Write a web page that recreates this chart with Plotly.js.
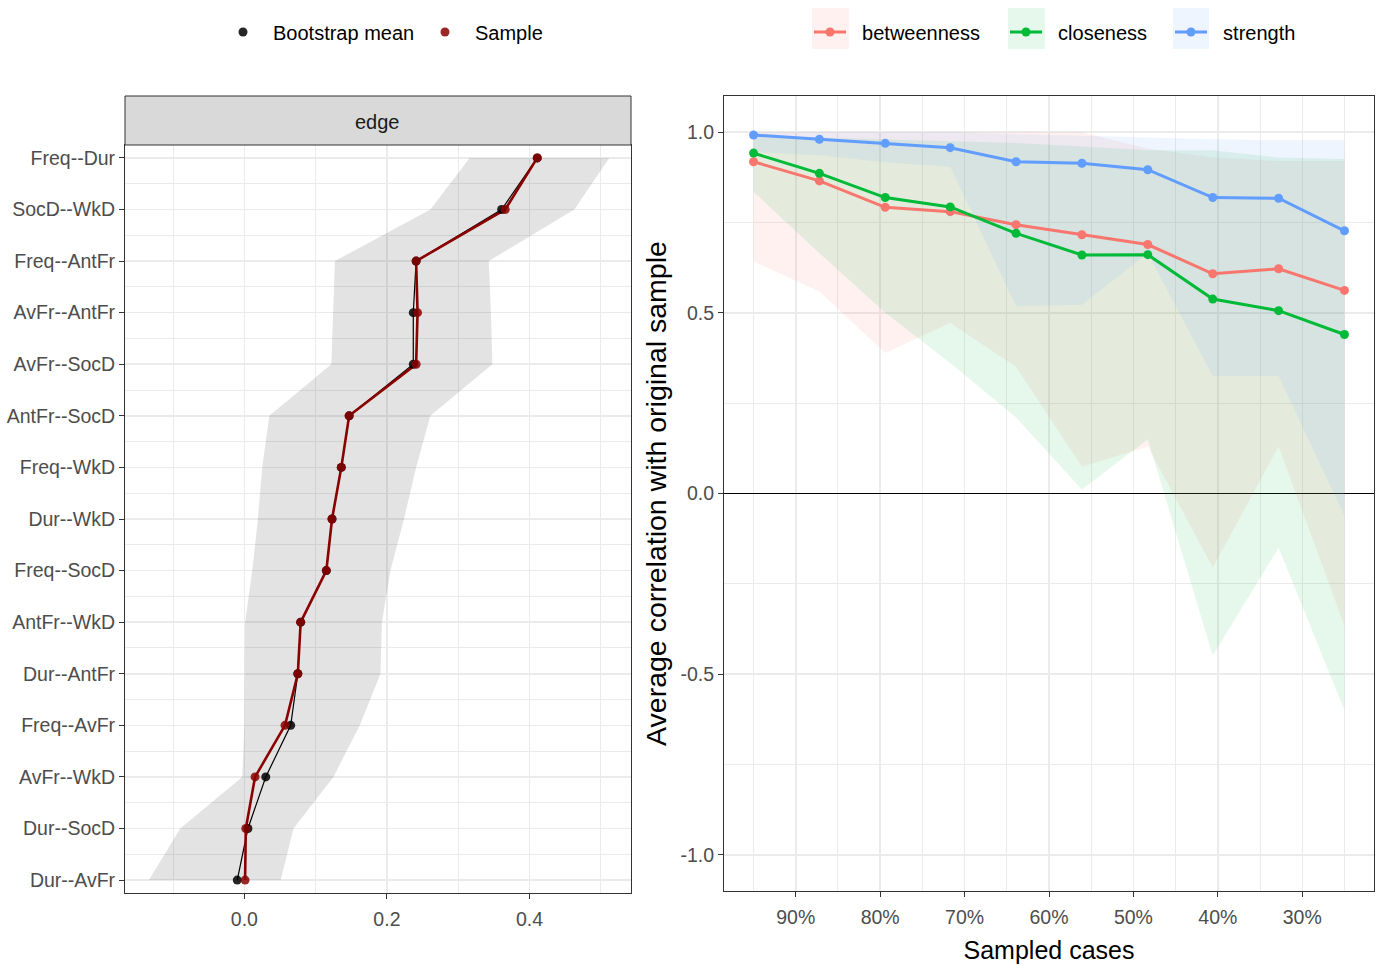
<!DOCTYPE html>
<html><head><meta charset="utf-8">
<script src="https://cdn.plot.ly/plotly-3.0.1.min.js"></script>
<style>html,body{margin:0;padding:0;background:#fff}#chart{width:1383px;height:968px}</style>
</head><body><div id="chart"></div>
<script>
// ---------- Left panel: edge weights ----------
const edges = ["Freq--Dur","SocD--WkD","Freq--AntFr","AvFr--AntFr","AvFr--SocD","AntFr--SocD","Freq--WkD","Dur--WkD","Freq--SocD","AntFr--WkD","Dur--AntFr","Freq--AvFr","AvFr--WkD","Dur--SocD","Dur--AvFr"];
const bootMean  = [0.411,0.361,0.241,0.237,0.237,0.147,0.136,0.123,0.115,0.079,0.075,0.065,0.030,0.005,-0.010];
const sampleVal = [0.411,0.366,0.241,0.243,0.241,0.147,0.136,0.123,0.115,0.079,0.075,0.057,0.015,0.002,0.001];
const ciLower   = [0.316,0.261,0.127,0.124,0.122,0.035,0.025,0.019,0.011,0.001,0.001,0.000,-0.003,-0.090,-0.134];
const ciUpper   = [0.512,0.463,0.343,0.346,0.348,0.261,0.241,0.224,0.205,0.193,0.191,0.162,0.125,0.069,0.051];
const edgeTickVals = [0.0, 0.2, 0.4];

// ---------- Right panel: case-dropping stability ----------
const sampledPct    = [95.0,87.2,79.4,71.7,63.9,56.1,48.3,40.6,32.8,25.0];
const betweenness   = [0.918,0.865,0.792,0.780,0.744,0.716,0.689,0.608,0.622,0.562];
const closeness     = [0.942,0.886,0.819,0.793,0.720,0.660,0.661,0.538,0.506,0.440];
const strength      = [0.992,0.980,0.969,0.957,0.918,0.914,0.896,0.819,0.817,0.727];
const betweennessLo = [0.642,0.559,0.389,0.472,0.350,0.074,0.130,-0.205,0.130,-0.366];
const betweennessHi = [1.000,1.000,1.000,1.000,1.000,1.000,0.955,0.930,0.920,0.920];
const closenessLo   = [0.835,0.665,0.500,0.361,0.210,0.011,0.150,-0.448,-0.150,-0.600];
const closenessHi   = [0.990,0.985,0.980,0.975,0.970,0.960,0.950,0.950,0.930,0.926];
const strengthLo    = [0.945,0.936,0.917,0.904,0.518,0.522,0.665,0.325,0.325,-0.062];
const strengthHi    = [1.000,1.000,1.000,1.000,0.995,0.990,0.985,0.980,0.978,0.978];
const pctTickVals = [90,80,70,60,50,40,30];
const corTickVals = [-1.0,-0.5,0.0,0.5,1.0];

const W = 1383, H = 968;
const px = v => v / W, py = v => 1 - v / H;
const FONT = "'Liberation Sans',Arial,sans-serif";
const GRID = '#ebebeb';

const idx = edges.map((_, i) => i);
const rev = a => a.slice().reverse();

const traces = [];
// left ribbon, lines, points
traces.push({x: ciLower.concat(rev(ciUpper)), y: idx.concat(rev(idx)), xaxis:'x', yaxis:'y',
  type:'scatter', mode:'lines', fill:'toself', fillcolor:'rgba(0,0,0,0.11)', line:{width:0},
  showlegend:false, hoverinfo:'skip'});
traces.push({x: bootMean, y: idx, xaxis:'x', yaxis:'y', type:'scatter', mode:'lines',
  line:{color:'#000', width:1.2}, showlegend:false});
traces.push({x: sampleVal, y: idx, xaxis:'x', yaxis:'y', type:'scatter', mode:'lines',
  line:{color:'#8b0000', width:2.6}, showlegend:false});
traces.push({x: bootMean, y: idx, xaxis:'x', yaxis:'y', type:'scatter', mode:'markers',
  name:'Bootstrap mean', legend:'legend', marker:{color:'rgba(0,0,0,0.85)', size:9}});
traces.push({x: sampleVal, y: idx, xaxis:'x', yaxis:'y', type:'scatter', mode:'markers',
  name:'Sample', legend:'legend2', marker:{color:'rgba(139,0,0,0.85)', size:9}});

// right ribbons and lines
const measures = [
  {name:'betweenness', v:betweenness, lo:betweennessLo, hi:betweennessHi, c:'248,118,109', leg:'legend3'},
  {name:'closeness',   v:closeness,   lo:closenessLo,   hi:closenessHi,   c:'0,186,56',    leg:'legend4'},
  {name:'strength',    v:strength,    lo:strengthLo,    hi:strengthHi,    c:'97,156,255',  leg:'legend5'}
];
measures.forEach(m => traces.push({x: sampledPct.concat(rev(sampledPct)), y: m.hi.concat(rev(m.lo)),
  xaxis:'x2', yaxis:'y2', type:'scatter', mode:'lines', fill:'toself', fillcolor:'rgba('+m.c+',0.1)',
  line:{width:0}, showlegend:false, hoverinfo:'skip'}));
measures.forEach(m => traces.push({x: sampledPct, y: m.v, xaxis:'x2', yaxis:'y2', type:'scatter',
  mode:'lines+markers', name:'\u00a0\u00a0' + m.name, legend:m.leg,
  line:{color:'rgb('+m.c+')', width:3}, marker:{color:'rgb('+m.c+')', size:9}}));

const tickFont = {family: FONT, size: 19.5, color:'#4d4d4d'};
const axLine = {showline:true, mirror:true, linecolor:'#333', linewidth:1, ticks:'outside', ticklen:5, tickcolor:'#333', tickwidth:1};
const legFont = {family: FONT, size: 20, color:'#000'};
function mkLeg(xpx, iw){ return {x: px(xpx), y: py(32), xanchor:'left', yanchor:'middle', orientation:'h',
  itemwidth: iw, bgcolor:'rgba(0,0,0,0)', borderwidth:0, font: legFont}; }

const layout = {
  width: W, height: H, margin:{l:0, r:0, t:0, b:0}, paper_bgcolor:'#fff', plot_bgcolor:'#fff',
  xaxis: Object.assign({domain:[px(125), px(631)], range:[-0.1675, 0.5425], tickmode:'array',
    tickvals: edgeTickVals, ticktext: edgeTickVals.map(v => v.toFixed(1)), ticklabelstandoff:4,
    showgrid:true, gridcolor:GRID, gridwidth:1.5, zeroline:false, tickfont:tickFont,
    minor:{dtick:0.1, tick0:0, showgrid:true, gridcolor:GRID, gridwidth:1}}, axLine),
  yaxis: Object.assign({domain:[py(893), py(145)], range:[14.25, -0.25], tickmode:'array', tickvals: idx, ticktext: edges,
    showgrid:true, gridcolor:GRID, gridwidth:1.5, zeroline:false, tickfont:tickFont,
    minor:{tickmode:'array', tickvals: idx.slice(1).map(i => i - 0.5), showgrid:true, gridcolor:GRID, gridwidth:1}}, axLine),
  xaxis2: Object.assign({domain:[px(724), px(1374)], range:[98.5, 21.5], tickmode:'array',
    tickvals: pctTickVals, ticktext: pctTickVals.map(v => v + '%'), ticklabelstandoff:4,
    showgrid:true, gridcolor:GRID, gridwidth:1.5, zeroline:false, tickfont:tickFont, anchor:'y2',
    minor:{dtick:5, tick0:0, showgrid:true, gridcolor:GRID, gridwidth:1},
    title:{text:'Sampled cases', font:{family:FONT, size:25, color:'#000'}, standoff:14}}, axLine),
  yaxis2: Object.assign({domain:[py(891), py(96)], range:[-1.1, 1.1], tickmode:'array',
    tickvals: corTickVals, ticktext: corTickVals.map(v => v.toFixed(1)),
    showgrid:true, gridcolor:GRID, gridwidth:1.5, zeroline:true, zerolinecolor:'#000', zerolinewidth:1.6,
    tickfont:tickFont, anchor:'x2',
    minor:{dtick:0.25, tick0:0, showgrid:true, gridcolor:GRID, gridwidth:1},
    title:{text:'Average correlation with original sample', font:{family:FONT, size:28.5, color:'#000'}, standoff:5}}, axLine),
  legend: mkLeg(213, 50),
  legend2: mkLeg(415, 50),
  legend3: mkLeg(809, 32),
  legend4: mkLeg(1005, 32),
  legend5: mkLeg(1170, 32),
  shapes: [
    {type:'rect', xref:'paper', yref:'paper', x0:px(125), x1:px(631), y0:py(145), y1:py(96),
      fillcolor:'#d9d9d9', line:{color:'#333', width:1}},
    {type:'rect', xref:'paper', yref:'paper', x0:px(812), x1:px(849), y0:py(49), y1:py(8),
      fillcolor:'rgba(248,118,109,0.1)', line:{width:0}, layer:'below'},
    {type:'rect', xref:'paper', yref:'paper', x0:px(1008), x1:px(1045), y0:py(49), y1:py(8),
      fillcolor:'rgba(0,186,56,0.1)', line:{width:0}, layer:'below'},
    {type:'rect', xref:'paper', yref:'paper', x0:px(1173), x1:px(1209), y0:py(49), y1:py(8),
      fillcolor:'rgba(97,156,255,0.1)', line:{width:0}, layer:'below'}
  ],
  annotations: [
    {text:'edge', xref:'paper', yref:'paper', x:px(378), y:py(122), showarrow:false,
      font:{family:FONT, size:20, color:'#1a1a1a'}, xanchor:'center', yanchor:'middle'}
  ]
};

Plotly.newPlot('chart', traces, layout, {displayModeBar:false, staticPlot:true});
</script></body></html>
